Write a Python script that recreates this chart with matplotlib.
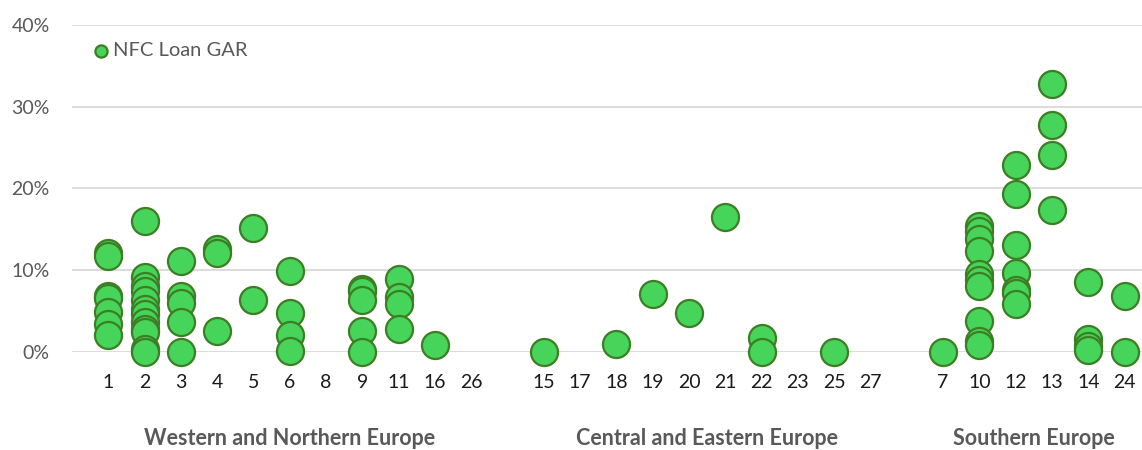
import matplotlib
matplotlib.use("Agg")
import matplotlib.pyplot as plt
from matplotlib.ticker import FuncFormatter, MultipleLocator

plt.rcParams['font.family'] = ['Lato', 'DejaVu Sans']

# Regions and the bank labels shown on the x axis (in order)
region_names = ["Western and Northern Europe", "Central and Eastern Europe", "Southern Europe"]
west_banks = ["1", "2", "3", "4", "5", "6", "8", "9", "11", "16", "26"]
central_banks = ["15", "17", "18", "19", "20", "21", "22", "23", "25", "27"]
south_banks = ["7", "10", "12", "13", "14", "24"]

# NFC Loan GAR observations per bank (%)
gar_1 = [12.1, 11.7, 6.8, 6.6, 4.9, 3.4, 2.1]
gar_2 = [16.0, 9.2, 8.0, 7.4, 6.3, 5.2, 4.6, 3.6, 2.8, 2.4, 0.3, 0.0]
gar_3 = [11.1, 6.8, 6.0, 3.6, 0.0]
gar_4 = [12.6, 12.1, 2.5]
gar_5 = [15.2, 6.4]
gar_6 = [9.9, 4.7, 2.1, 0.1]
gar_8 = []
gar_9 = [7.7, 7.4, 6.3, 2.6, 0.0]
gar_11 = [8.9, 6.7, 5.8, 2.8]
gar_16 = [0.9]
gar_26 = []
gar_15 = [0.0]
gar_17 = []
gar_18 = [1.0]
gar_19 = [7.1]
gar_20 = [4.8]
gar_21 = [16.5]
gar_22 = [1.7, 0.0]
gar_23 = []
gar_25 = [0.0]
gar_27 = []
gar_7 = [0.0]
gar_10 = [15.4, 14.8, 13.8, 12.3, 9.5, 8.8, 8.0, 3.8, 1.3, 0.8]
gar_12 = [22.9, 19.3, 13.1, 9.7, 7.6, 7.2, 5.8]
gar_13 = [32.8, 27.8, 24.1, 17.4]
gar_14 = [8.5, 1.6, 0.7, 0.2]
gar_24 = [6.8, 0.0]

gar_by_bank = {
    "1": gar_1, "2": gar_2, "3": gar_3, "4": gar_4, "5": gar_5, "6": gar_6,
    "8": gar_8, "9": gar_9, "11": gar_11, "16": gar_16, "26": gar_26,
    "15": gar_15, "17": gar_17, "18": gar_18, "19": gar_19, "20": gar_20,
    "21": gar_21, "22": gar_22, "23": gar_23, "25": gar_25, "27": gar_27,
    "7": gar_7, "10": gar_10, "12": gar_12, "13": gar_13, "14": gar_14, "24": gar_24,
}

# Build slot positions: one empty slot between regions
groups = [west_banks, central_banks, south_banks]
tick_pos, tick_lab, group_centers = [], [], []
pos = 1
for gi, banks in enumerate(groups):
    start = pos
    for b in banks:
        tick_pos.append(pos)
        tick_lab.append(b)
        pos += 1
    group_centers.append((start + pos - 1) / 2)
    pos += 1

xs, ys = [], []
for p, b in zip(tick_pos, tick_lab):
    for v in gar_by_bank[b]:
        xs.append(p)
        ys.append(v / 100)

fig = plt.figure(figsize=(11.42, 4.5), dpi=100)
ax = fig.add_axes([0.063, 0.218, 0.937, 0.727])

grid_col = "#d9d9d9"
text_col = "#595959"

ax.scatter(xs, ys, s=27 ** 2 * 0.52, facecolor="#47D45A", edgecolor="#3B7E23",
           linewidth=1.6, zorder=3, clip_on=False, label="NFC Loan GAR")

ax.set_ylim(0, 0.40)
ax.set_xlim(0, 29.48)
ax.yaxis.set_major_locator(MultipleLocator(0.10))
ax.yaxis.set_major_formatter(FuncFormatter(lambda v, _: f"{v*100:.0f}%"))
ax.grid(axis="y", color=grid_col, linewidth=1.3, zorder=0)
ax.set_axisbelow(True)
for s in ax.spines.values():
    s.set_visible(False)
ax.tick_params(axis="y", length=0, labelsize=14, labelcolor=text_col, pad=16)
ax.set_xticks(tick_pos)
ax.set_xticklabels(tick_lab)
ax.tick_params(axis="x", length=0, labelsize=14, labelcolor="#1a1a1a", pad=16)

for c, name in zip(group_centers, region_names):
    ax.text(c, -0.265, name, transform=ax.get_xaxis_transform(), ha="center", va="center",
            fontsize=15.5, fontweight="bold", color=text_col)

leg = ax.legend(loc="upper left", bbox_to_anchor=(0.003, 0.99), frameon=False, fontsize=14.5,
                labelcolor=text_col, markerscale=0.45, handletextpad=0.0, borderaxespad=0.3,
                handlelength=1.2)

fig.savefig("out.png", dpi=100)
